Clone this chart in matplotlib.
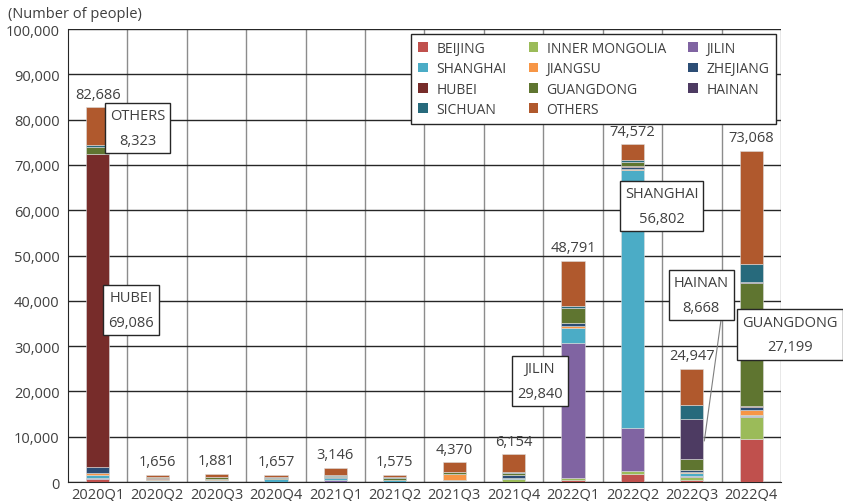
"""Quarterly stacked bar chart of people by province."""

import matplotlib.pyplot as plt
from matplotlib.patches import Patch
from matplotlib.ticker import FuncFormatter, MultipleLocator

plt.rcParams['font.family'] = ['Open Sans', 'DejaVu Sans']

quarters = ['2020Q1', '2020Q2', '2020Q3', '2020Q4', '2021Q1', '2021Q2',
            '2021Q3', '2021Q4', '2022Q1', '2022Q2', '2022Q3', '2022Q4']

beijing = [590, 120, 50, 40, 80, 20, 40, 60, 350, 1840, 430, 9570]
inner_mongolia = [75, 20, 60, 60, 20, 20, 70, 500, 520, 560, 600, 4860]
jilin = [155, 5, 10, 5, 350, 5, 10, 50, 29840, 9600, 250, 60]
shanghai = [650, 330, 420, 460, 430, 380, 420, 280, 3300, 56802, 700, 300]
jiangsu = [630, 90, 70, 50, 70, 40, 1150, 80, 520, 320, 300, 1100]
zhejiang = [1270, 60, 60, 60, 100, 50, 80, 650, 600, 500, 280, 700]
hubei = [69086, 230, 20, 10, 15, 10, 60, 20, 80, 150, 100, 150]
guangdong = [1400, 200, 310, 280, 240, 450, 310, 300, 3150, 780, 2500, 27199]
hainan = [170, 10, 15, 5, 5, 5, 10, 10, 120, 100, 8668, 250]
sichuan = [337, 40, 110, 150, 160, 120, 130, 250, 330, 500, 3250, 3900]
others = [8323, 551, 756, 537, 1676, 475, 2090, 3954, 9981, 3420, 7869, 24979]

series = [
    ('BEIJING', beijing, '#C0504D'),
    ('INNER MONGOLIA', inner_mongolia, '#9BBB59'),
    ('JILIN', jilin, '#8064A2'),
    ('SHANGHAI', shanghai, '#4BACC6'),
    ('JIANGSU', jiangsu, '#F79646'),
    ('ZHEJIANG', zhejiang, '#2C4D75'),
    ('HUBEI', hubei, '#772C2A'),
    ('GUANGDONG', guangdong, '#5F7530'),
    ('HAINAN', hainan, '#4D3B62'),
    ('SICHUAN', sichuan, '#276A7C'),
    ('OTHERS', others, '#B0592D'),
]

# callouts: (label, quarter index, value, box centre x, box centre y)
callouts = [
    ('OTHERS', 0, others[0], 0.67, 78150),
    ('HUBEI', 0, hubei[0], 0.56, 37970),
    ('JILIN', 8, jilin[8], 7.44, 22300),
    ('SHANGHAI', 9, shanghai[9], 9.49, 60930),
    ('GUANGDONG', 11, guangdong[11], 11.65, 32560),
]

text_color = '#404040'

fig = plt.figure(figsize=(8.43, 5.02), dpi=100)
ax = fig.add_axes([0.0807, 0.0378, 0.8457, 0.9024])

x = list(range(len(quarters)))
bottom = [0] * len(quarters)
for name, vals, color in series:
    ax.bar(x, vals, width=0.39, bottom=bottom, color=color,
           edgecolor='#dcdcdc', linewidth=0.4, zorder=3)
    bottom = [b + v for b, v in zip(bottom, vals)]

# totals above each bar
for xi, total in zip(x, bottom):
    ax.annotate(f'{total:,}', (xi, total), xytext=(0, 4),
                textcoords='offset points', ha='center', va='bottom',
                fontsize=10.5, color=text_color, zorder=5)

box = dict(boxstyle='square,pad=0.35', facecolor='white',
           edgecolor='#262626', linewidth=1)
for name, qi, val, bx, by in callouts:
    ax.text(bx, by, f'{name}\n{val:,}', ha='center', va='center',
            fontsize=10.5, color=text_color, linespacing=1.9,
            bbox=box, zorder=6, clip_on=False)

# Hainan label with a leader line down to its segment
hainan_base = sum(s[1][10] for s in series[:8])
ax.annotate(f'HAINAN\n{hainan[10]:,}',
            xy=(10.21, hainan_base + hainan[10] * 0.45),
            xytext=(10.16, 41280), ha='center', va='center',
            fontsize=10.5, color=text_color, linespacing=1.9,
            bbox=box, zorder=6,
            arrowprops=dict(arrowstyle='-', color='#7f7f7f', lw=0.8,
                            relpos=(0.87, 0), shrinkA=0, shrinkB=0))

ax.set_xlim(-0.5, len(quarters) - 0.5)
ax.set_ylim(0, 100000)
ax.yaxis.set_major_locator(MultipleLocator(10000))
ax.yaxis.set_major_formatter(FuncFormatter(lambda v, p: f'{v:,.0f}'))
ax.set_xticks(x)
ax.set_xticklabels(quarters)
ax.tick_params(length=0, labelsize=10.5, labelcolor=text_color)
ax.tick_params(axis='x', pad=3)
ax.tick_params(axis='y', pad=6)

# horizontal grid plus vertical separators between quarters
ax.grid(axis='y', color='#262626', linewidth=1, zorder=0)
for b in range(1, len(quarters) + 1):
    ax.axvline(b - 0.5, color='#8c8c8c', linewidth=1, zorder=0)
for side in ['top', 'right']:
    ax.spines[side].set_visible(False)
ax.spines['left'].set_color('#262626')
ax.spines['bottom'].set_color('#262626')

# legend reads row by row in stacking order, three columns
handles = [Patch(facecolor=c, label=n) for n, _, c in series]
order = [0, 3, 6, 9, 1, 4, 7, 10, 2, 5, 8]
leg = ax.legend(handles=[handles[i] for i in order], ncol=3,
                loc='upper right', bbox_to_anchor=(0.993, 0.989),
                borderaxespad=0, fontsize=10,
                handlelength=0.7, handleheight=0.7, handletextpad=0.6,
                columnspacing=1.6, labelspacing=0.38, borderpad=0.5,
                fancybox=False, framealpha=1, edgecolor='#262626')
leg.get_frame().set_linewidth(1)
leg.set_zorder(7)
for t in leg.get_texts():
    t.set_color(text_color)

fig.text(8 / 843, 1 - 14 / 502, '(Number of people)', fontsize=10.5,
         color=text_color, va='center', ha='left')

fig.savefig('out.png', dpi=100)
